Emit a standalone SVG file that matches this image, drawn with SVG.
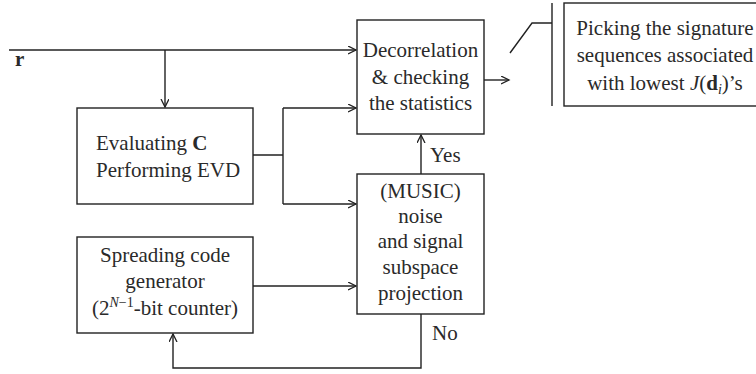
<svg xmlns="http://www.w3.org/2000/svg" width="756" height="374" viewBox="0 0 756 374">
<defs>
<marker id="arr" markerWidth="10" markerHeight="10" refX="8" refY="4" orient="auto" markerUnits="userSpaceOnUse">
<path d="M0,0 L8,4 L0,8" fill="none" stroke="#222" stroke-width="1.3"/>
</marker>
</defs>
<style>
.box{fill:#fff;stroke:#222;stroke-width:1.4}
.ln{fill:none;stroke:#222;stroke-width:1.4}
.t{font-family:"Liberation Serif","Times New Roman",serif;font-size:21px;fill:#2a2a2a}
.c{text-anchor:middle}
</style>
<rect width="756" height="374" fill="#fff"/>
<g id="connectors">
<path class="ln" d="M9,50 H356" marker-end="url(#arr)"/>
<path class="ln" d="M165,50 V107" marker-end="url(#arr)"/>
<path class="ln" d="M253,155 H283 M283,108 V204"/>
<path class="ln" d="M283,108 H356" marker-end="url(#arr)"/>
<path class="ln" d="M283,204 H356" marker-end="url(#arr)"/>
<path class="ln" d="M253,286 H356" marker-end="url(#arr)"/>
<path class="ln" d="M421,174 V135" marker-end="url(#arr)"/>
<path class="ln" d="M421,314 V368 H173 V334" marker-end="url(#arr)"/>
<path class="ln" d="M484,80 H509" marker-end="url(#arr)"/>
<path class="ln" d="M510,53 L532,23 H552 M552,3 V106"/>
<text class="t" x="15" y="66" font-weight="bold">r</text>
<text class="t" x="430" y="162">Yes</text>
<text class="t" x="432" y="340">No</text>
</g>
<g id="evd">
<rect class="box" x="77" y="108" width="176" height="96"/>
<text class="t" x="96" y="150">Evaluating <tspan font-weight="bold">C</tspan></text>
<text class="t" x="96" y="177">Performing EVD</text>
</g>
<g id="spreading">
<rect class="box" x="77" y="237" width="176" height="96"/>
<text class="t c" x="165" y="262">Spreading code</text>
<text class="t c" x="165" y="288">generator</text>
<text class="t c" x="165" y="315">(2<tspan font-size="14" dy="-8"><tspan font-style="italic">N</tspan>−1</tspan><tspan dy="8">-bit counter)</tspan></text>
</g>
<g id="decorrelation">
<rect class="box" x="357" y="20" width="127" height="114"/>
<text class="t c" x="420.5" y="57">Decorrelation</text>
<text class="t c" x="420.5" y="84">&amp; checking</text>
<text class="t c" x="420.5" y="110">the statistics</text>
</g>
<g id="music">
<rect class="box" x="357" y="174" width="127" height="140"/>
<text class="t c" x="420.5" y="198">(MUSIC)</text>
<text class="t c" x="420.5" y="223">noise</text>
<text class="t c" x="420.5" y="248">and signal</text>
<text class="t c" x="420.5" y="274">subspace</text>
<text class="t c" x="420.5" y="300">projection</text>
</g>
<g id="picking">
<rect class="box" x="564" y="3" width="210" height="103"/>
<text class="t c" x="665" y="35">Picking the signature</text>
<text class="t c" x="665" y="62">sequences associated</text>
<text class="t c" x="665" y="90">with lowest <tspan font-style="italic">J</tspan>(<tspan font-weight="bold">d</tspan><tspan font-style="italic" font-size="14" dy="4">i</tspan><tspan dy="-4">)’s</tspan></text>
</g>
</svg>
